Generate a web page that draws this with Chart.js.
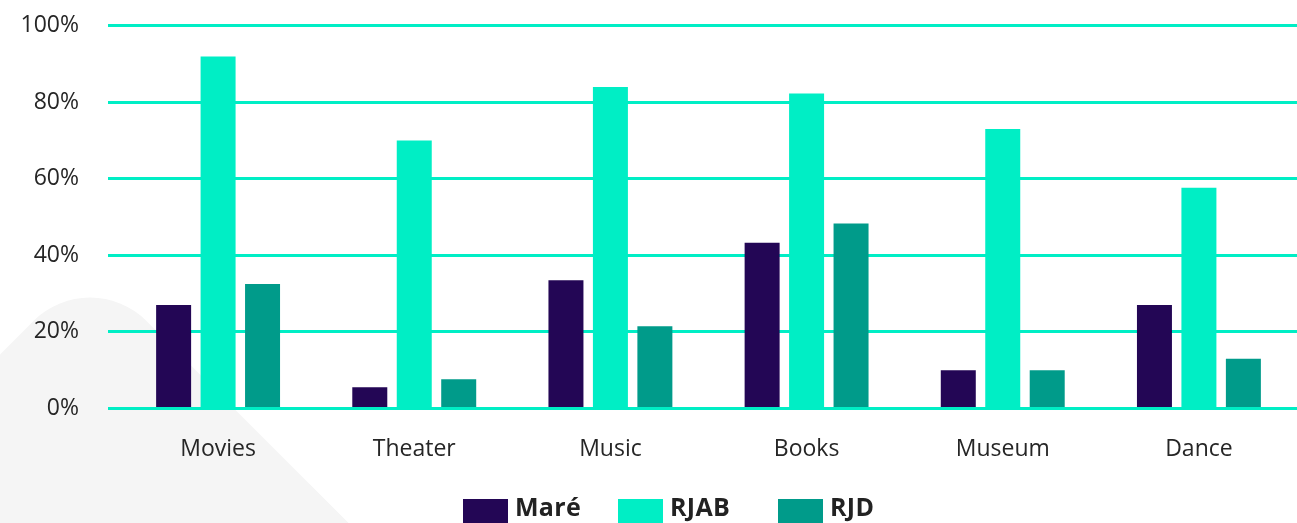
<!DOCTYPE html>
<html>
<head>
<meta charset="utf-8">
<script src="https://cdn.jsdelivr.net/npm/chart.js@4.4.0/dist/chart.umd.min.js"></script>
<style>
  html, body { margin: 0; padding: 0; background: #ffffff; overflow: hidden; }
  #wrap { position: relative; width: 1297px; height: 523px; overflow: hidden; }
  #shape { position: absolute; width: 500px; height: 500px; background: #f5f5f5;
           border-radius: 80px; left: -160px; top: 368px; transform: rotate(45deg); }
  #c { position: absolute; left: 0; top: -17px; }
  #legend { position: absolute; left: 0; top: 489px; width: 1297px; height: 40px;
            font-family: "Open Sans", sans-serif; font-weight: 700; font-size: 25px; color: #222; }
  .item { position: absolute; top: 0; display: flex; align-items: flex-start; line-height: 34px; letter-spacing: 0.3px; }
  .sw { width: 45px; height: 26px; margin-top: 10px; margin-right: 7px; }
</style>
</head>
<body>
<div id="wrap">
  <div id="shape"></div>
  <canvas id="c" width="1297" height="540"></canvas>
  <div id="legend"></div>
</div>
<script>
const categories = ["Movies", "Theater", "Music", "Books", "Museum", "Dance"];
const seriesNames = ["Maré", "RJAB", "RJD"];
const mareValues = [27, 5.5, 33.5, 43.3, 10, 27];
const rjabValues = [92, 70, 84, 82.3, 73, 57.7];
const rjdValues = [32.5, 7.6, 21.5, 48.3, 10, 13];
const yTicks = [0, 20, 40, 60, 80, 100];
const colors = ["#230655", "#00eec5", "#009b8a"];
const legendLeft = [463, 618, 778];

const seriesValues = [mareValues, rjabValues, rjdValues];
const datasets = seriesNames.map((n, i) => ({
  label: n,
  data: seriesValues[i],
  backgroundColor: colors[i],
  borderWidth: 0,
  categoryPercentage: 0.68,
  barPercentage: 0.787
}));

new Chart(document.getElementById("c"), {
  type: "bar",
  data: { labels: categories, datasets },
  options: {
    responsive: false,
    animation: false,
    layout: { padding: { top: 8, right: 0, bottom: 41, left: 0 } },
    plugins: { legend: { display: false }, tooltip: { enabled: false } },
    scales: {
      x: {
        grid: { display: false },
        border: { display: false },
        ticks: { padding: 19, color: "#262626", font: { family: "Open Sans", size: 23 } }
      },
      y: {
        min: 0, max: 100,
        afterBuildTicks: s => { s.ticks = yTicks.map(v => ({ value: v })); },
        afterFit: s => { s.width = 120; },
        grid: { color: "#00eec5", lineWidth: 3, tickLength: 12, drawTicks: true },
        border: { display: false },
        ticks: { padding: 29, color: "#262626", font: { family: "Open Sans", size: 23 },
                 callback: v => v + "%" }
      }
    }
  }
});

const legend = document.getElementById("legend");
seriesNames.forEach((n, i) => {
  const it = document.createElement("div");
  it.className = "item";
  it.style.left = legendLeft[i] + "px";
  const sw = document.createElement("div");
  sw.className = "sw";
  sw.style.background = colors[i];
  const tx = document.createElement("span");
  tx.textContent = n;
  it.appendChild(sw); it.appendChild(tx);
  legend.appendChild(it);
});
</script>
</body>
</html>
